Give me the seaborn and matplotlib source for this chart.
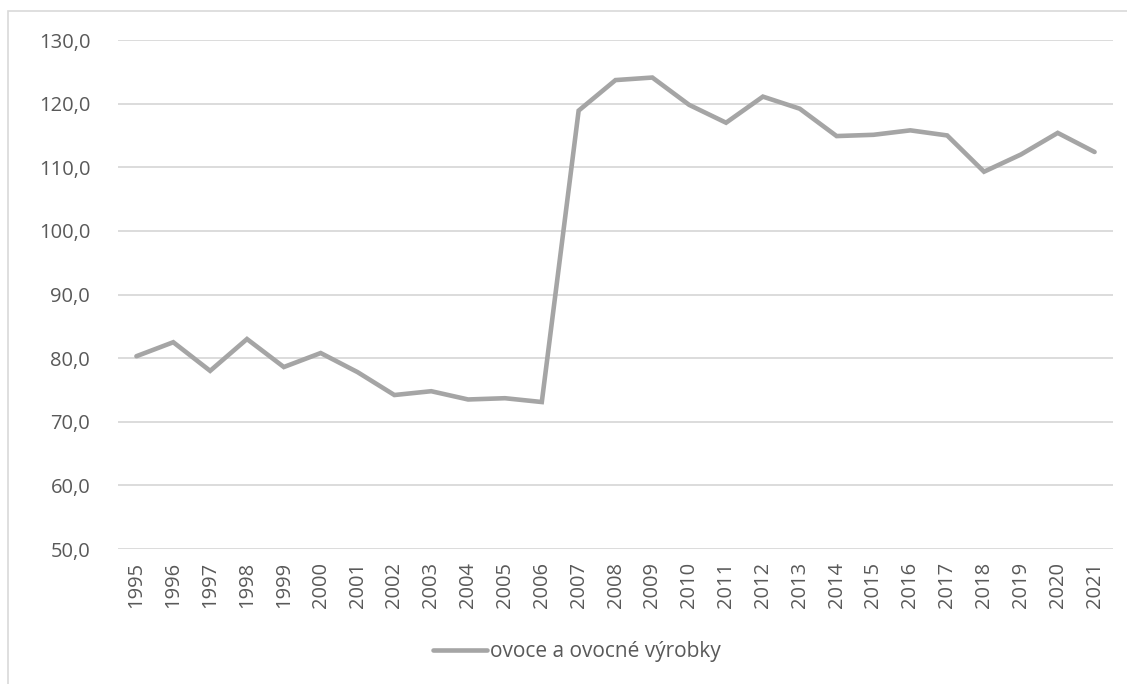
import matplotlib
matplotlib.use("Agg")
import matplotlib.pyplot as plt
import matplotlib.patches as mpatches
import seaborn as sns
import pandas as pd

years = [str(y) for y in range(1995, 2022)]
values = [80.3, 82.5, 78.0, 83.0, 78.6, 80.8, 77.8, 74.2, 74.8, 73.5, 73.7, 73.1,
          118.9, 123.7, 124.1, 119.8, 117.0, 121.1, 119.2, 114.9, 115.1, 115.8,
          115.0, 109.3, 112.0, 115.4, 112.4]
series_name = "ovoce a ovocné výrobky"
yticks = [50, 60, 70, 80, 90, 100, 110, 120, 130]

sns.set_theme(style="white")
plt.rcParams['font.family'] = ['Open Sans', 'DejaVu Sans']

df = pd.DataFrame({"year": years, "value": values, "series": series_name})

fig = plt.figure(figsize=(11.27, 6.84), dpi=100)
ax = fig.add_axes([118/1127, 1-549/684, (1113-118)/1127, (549-40)/684])

sns.lineplot(data=df, x="year", y="value", hue="series", palette=["#A5A5A5"],
             linewidth=3.3, ax=ax, sort=False, legend=False)
for l in ax.lines:
    l.set_solid_capstyle("round")
    l.set_solid_joinstyle("miter")

ax.set_xlim(-0.5, len(years) - 0.5)
ax.set_ylim(50, 130)
ax.set_yticks(yticks)
ax.set_yticklabels([f"{v:.1f}".replace(".", ",") for v in yticks])
ax.set_xticks(range(len(years)))
ax.set_xticklabels(years, rotation=90)
ax.tick_params(axis="both", colors="#595959", labelsize=14.5, length=0)
ax.tick_params(axis="y", pad=20)
ax.tick_params(axis="x", pad=9)
ax.yaxis.grid(True, color="#D9D9D9", linewidth=1.3)
ax.xaxis.grid(False)
for s in ax.spines.values():
    s.set_visible(False)
ax.set_xlabel("")
ax.set_ylabel("")

handle = plt.Line2D([], [], color="#A5A5A5", linewidth=3.3, solid_capstyle="round")
fig.legend([handle], [series_name], loc="center", bbox_to_anchor=(577/1127, 1-652/684),
           frameon=False, fontsize=15, labelcolor="#595959", handlelength=2.6,
           handletextpad=0.15)

border = mpatches.Rectangle((8/1127, -0.05), 1.1, 1 - 11/684 + 0.05, transform=fig.transFigure,
                            fill=False, edgecolor="#D9D9D9", linewidth=1.2)
fig.patches.append(border)

fig.savefig("out.png", dpi=100)
